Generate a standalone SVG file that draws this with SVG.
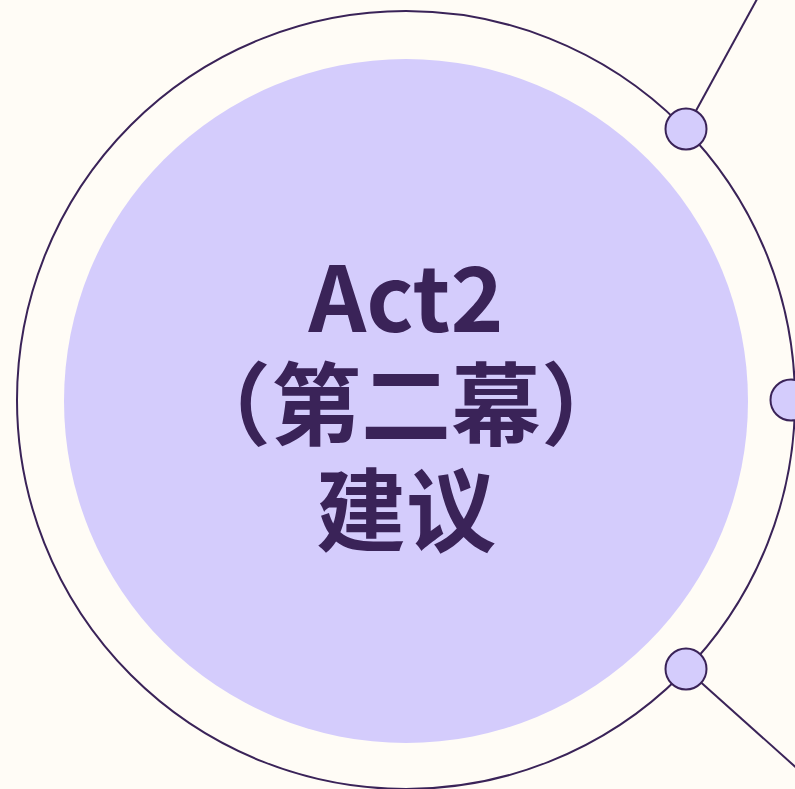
<svg xmlns="http://www.w3.org/2000/svg" width="795" height="789" viewBox="0 0 795 789">
<style>
.edge{stroke:#3A2358;stroke-width:2;fill:none}
.dot{fill:#D4CCFC;stroke:#3A2358;stroke-width:2}
.lbl{font-family:"Noto Sans CJK SC","Noto Sans",sans-serif;font-weight:700;font-size:90px;fill:#3A2358;text-anchor:middle}
</style>
<rect width="795" height="789" fill="#FFFCF6"/>
<g id="connectors">
<line class="edge" x1="686" y1="129" x2="762" y2="-10"/>
<line class="edge" x1="686" y1="669" x2="810" y2="780"/>
<line class="edge" x1="791" y1="400" x2="830" y2="400"/>
</g>
<g id="ring">
<circle class="edge" cx="406" cy="400" r="389"/>
</g>
<g id="center">
<circle cx="406" cy="401" r="342" fill="#D4CCFC"/>
<text class="lbl" x="406" y="332">Act2</text>
<text class="lbl" x="406" y="438">（第二幕）</text>
<text class="lbl" x="406" y="544">建议</text>
</g>
<g id="node-top"><circle class="dot" cx="686" cy="129" r="20.5"/></g>
<g id="node-mid"><circle class="dot" cx="791" cy="400" r="20.5"/></g>
<g id="node-bottom"><circle class="dot" cx="686" cy="669" r="20.5"/></g>
</svg>
